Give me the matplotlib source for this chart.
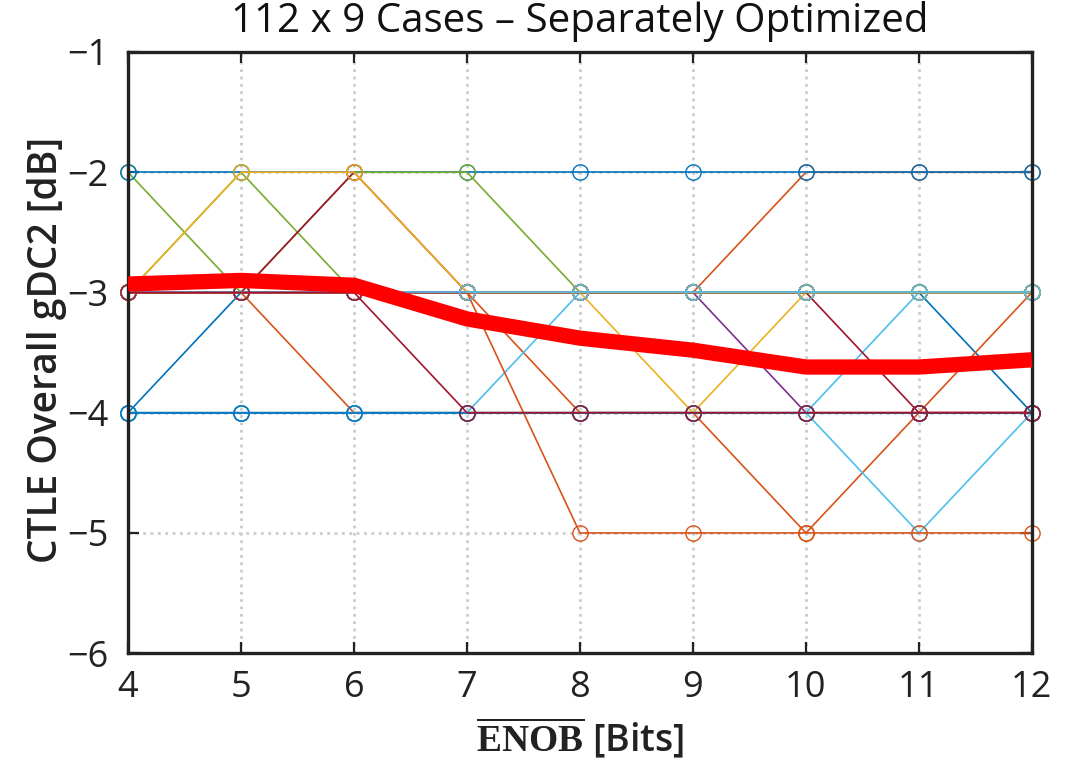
import matplotlib
matplotlib.use('Agg')
import matplotlib.pyplot as plt

plt.rcParams['font.family'] = ['Open Sans', 'DejaVu Sans']
plt.rcParams['mathtext.fontset'] = 'custom'
plt.rcParams['mathtext.bf'] = 'Liberation Serif:bold'
plt.rcParams['mathtext.rm'] = 'Liberation Serif'

# ENOB values on the x axis
enob = [4, 5, 6, 7, 8, 9, 10, 11, 12]

# MATLAB default line colours
blue = (0.000, 0.447, 0.741)
orange = (0.850, 0.325, 0.098)
yellow = (0.929, 0.694, 0.125)
purple = (0.494, 0.184, 0.556)
green = (0.466, 0.674, 0.188)
cyan = (0.301, 0.745, 0.933)
darkred = (0.635, 0.078, 0.184)

# optimized gDC2 per case (distinct traces), drawn bottom to top
case_o4 = [-3, -3, -3, -3, -3, -3, -2, -2, -2]
case_g1 = [-2, -3, -3, -3, -3, -3, -3, -3, -3]
case_g2 = [-3, -2, -3, -3, -3, -3, -3, -3, -3]
case_b2 = [-4, -3, -3, -3, -3, -3, -3, -3, -4]
case_o1 = [-3, -3, -4, -4, -4, -4, -4, -4, -4]
case_o2 = [-3, -3, -3, -3, -4, -4, -4, -4, -4]
case_o5 = [-4, -4, -4, -4, -4, -4, -5, -4, -3]
case_y2 = [-3, -3, -3, -3, -3, -4, -3, -3, -3]
case_p1 = [-3, -3, -3, -3, -3, -3, -4, -4, -4]
case_c2 = [-4, -4, -4, -4, -3, -3, -3, -3, -3]
case_c3 = [-4, -4, -4, -4, -4, -4, -4, -3, -3]
case_c4 = [-4, -4, -4, -4, -4, -4, -4, -5, -4]
case_o3 = [-3, -3, -3, -3, -5, -5, -5, -5, -5]
case_b1 = [-2, -2, -2, -2, -2, -2, -2, -2, -2]
case_g3 = [-3, -3, -2, -2, -3, -3, -3, -3, -3]
case_d1 = [-3, -3, -2, -3, -3, -3, -3, -3, -3]
case_d3 = [-3, -3, -3, -3, -3, -3, -3, -4, -4]
case_y1 = [-3, -2, -2, -3, -3, -3, -3, -3, -3]
case_c1 = [-3, -3, -3, -3, -3, -3, -3, -3, -3]
case_b3 = [-4, -4, -4, -4, -4, -4, -4, -4, -4]
case_d2 = [-3, -3, -3, -4, -4, -4, -4, -4, -4]

cases = [
    (case_o4, orange), (case_g1, green), (case_g2, green), (case_b2, blue),
    (case_o1, orange), (case_o2, orange), (case_o5, orange), (case_y2, yellow),
    (case_p1, purple), (case_c2, cyan), (case_c3, cyan), (case_c4, cyan),
    (case_o3, orange), (case_b1, blue), (case_g3, green), (case_d1, darkred),
    (case_d3, darkred), (case_y1, yellow), (case_c1, cyan), (case_b3, blue),
    (case_d2, darkred),
]

# average over all cases
mean_gdc2 = [-2.93, -2.90, -2.94, -3.22, -3.38, -3.48, -3.62, -3.62, -3.56]

fig = plt.figure(figsize=(10.76, 7.64), dpi=100)
ax = fig.add_axes([0.119, 0.145, 0.840, 0.787])

for vals, col in cases:
    ax.plot(enob, vals, color=col, lw=1.2, marker='o', ms=11,
            mfc='none', mec=col, mew=1.0, clip_on=False)

ax.plot(enob, mean_gdc2, color='red', lw=11, solid_joinstyle='miter',
        solid_capstyle='butt', clip_on=False, zorder=5)

ax.set_xlim(4, 12)
ax.set_ylim(-6, -1)
ax.set_xticks(enob)
ax.set_yticks([-6, -5, -4, -3, -2, -1])
ax.set_yticklabels(['\u22126', '\u22125', '\u22124', '\u22123', '\u22122', '\u22121'])
ax.grid(True, color='#cccccc', ls=':', lw=2)
ax.set_axisbelow(True)

for s in ax.spines.values():
    s.set_linewidth(2.4)
    s.set_color('#222222')
ax.tick_params(direction='in', length=8, width=1.6, labelsize=26,
               top=True, right=True, colors='#222222')
ax.tick_params(axis='x', pad=12)
ax.tick_params(axis='y', pad=14)

fig.text(0.539, 1 - 22 / 764, '112 x 9 Cases \u2013 Separately Optimized',
         fontsize=29, fontweight='medium', ha='center', va='center',
         color='#111111')
ax.set_ylabel('CTLE Overall gDC2 [dB]', fontsize=28, fontweight='semibold',
              color='#222222')
ax.yaxis.set_label_coords(-0.068, 0.505)
ax.set_xlabel(r'$\overline{\mathbf{ENOB}}$ [Bits]', fontsize=27,
              fontweight='semibold', color='#222222')
ax.xaxis.set_label_coords(0.5, -0.104)

fig.savefig('out.png', dpi=100)
